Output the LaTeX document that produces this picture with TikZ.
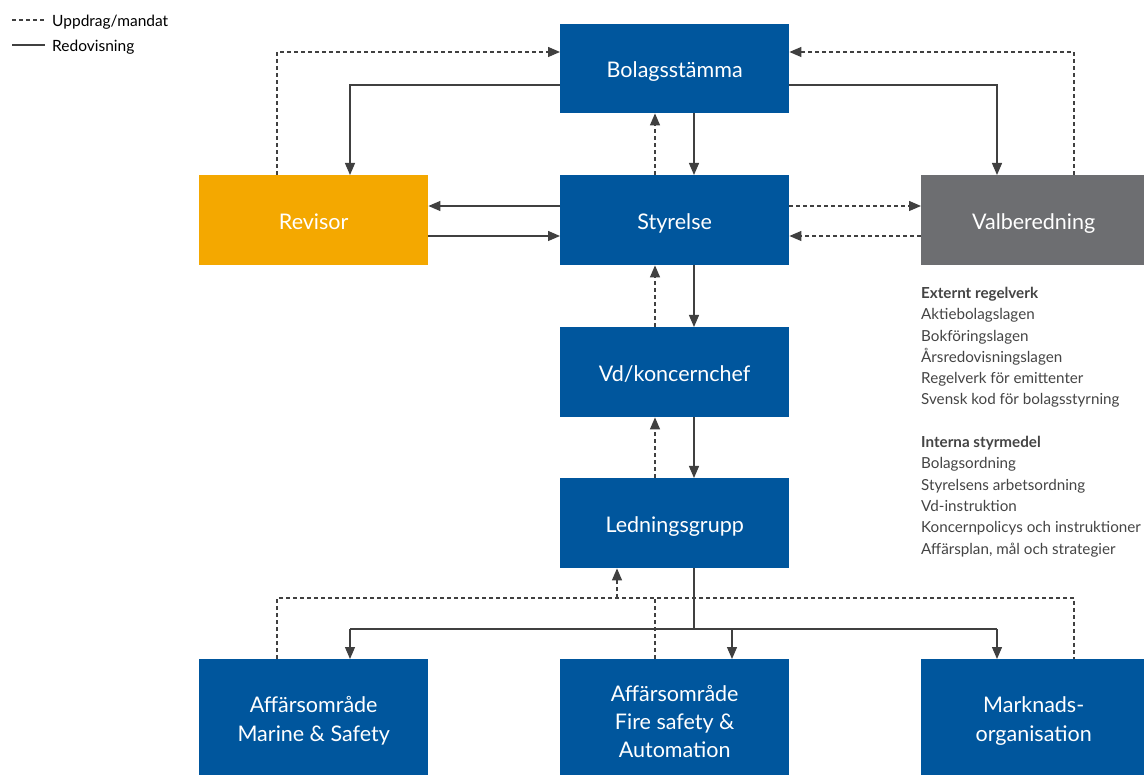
\documentclass[tikz,border=0pt]{standalone}
\usepackage{fontspec}
\setmainfont{Lato}
\usetikzlibrary{arrows.meta,calc}
\definecolor{cblue}{HTML}{00569D}
\definecolor{corange}{HTML}{F4A800}
\definecolor{cgray}{HTML}{6D6E71}
\definecolor{cline}{HTML}{404040}
\definecolor{ctext}{HTML}{444444}
\tikzset{
  box/.style={anchor=north west,inner sep=0pt,minimum width=229pt,minimum height=90pt,text=white,align=center,font=\fontsize{21.5}{29}\selectfont},
  one/.style={text height=18pt,text depth=0pt},
  sol/.style={draw=cline,line width=1.3pt},
  dsh/.style={draw=cline,line width=1.3pt,dash pattern=on 4pt off 3pt},
  arr/.style={-{Triangle[length=12pt,width=10pt]}},
  leg/.style={anchor=west,inner sep=0pt,text=black,font=\fontsize{15.5}{17}\selectfont},
}
\begin{document}
\begin{tikzpicture}[x=1pt,y=-1pt]
\useasboundingbox (0,0) rectangle (1144,775);
\begin{scope}
\clip (0,0) rectangle (1144,775);
\node[box,one,fill=cblue,minimum height=89pt] (bs) at (560,24) {Bolagsstämma};
\node[box,one,fill=corange] (rev) at (199,175) {Revisor};
\node[box,one,fill=cblue] (sty) at (560,175) {Styrelse};
\node[box,one,fill=cgray,minimum width=230pt] (val) at (921,175) {\hspace*{-5pt}Valberedning};
\node[box,one,fill=cblue] (vd) at (560,327) {Vd/koncernchef};
\node[box,one,fill=cblue] (lg) at (560,478) {Ledningsgrupp};
\node[box,fill=cblue,minimum height=124pt] (ma) at (199,659) {Affärsområde\\Marine \& Safety};
\node[box,fill=cblue,minimum height=124pt] (fs) at (560,659) {Affärsområde\\[-1pt]Fire safety \&\\[-1pt]Automation};
\node[box,fill=cblue,minimum height=124pt,minimum width=230pt] (mk) at (921,659) {\hspace*{-5pt}Marknads-\\\hspace*{-5pt}organisation};
\end{scope}

% legend
\draw[dsh] (12,20) coordinate (l1a) -- (45,20) coordinate (l1b);
\node[leg] (lt1) at (52,22) {Uppdrag/mandat};
\draw[sol] (12,45) coordinate (l2a) -- (45,45) coordinate (l2b);
\node[leg] (lt2) at (52,47) {Redovisning};

% text block
\node[anchor=north west,inner sep=0pt,align=left,text=ctext,font=\fontsize{15.2}{21.3}\selectfont] (regel) at (921,287)
{\textbf{Externt regelverk}\\
Aktiebolagslagen\\
Bokföringslagen\\
Årsredovisningslagen\\
Regelverk för emittenter\\
Svensk kod för bolagsstyrning\\[21.3pt]
\textbf{Interna styrmedel}\\
Bolagsordning\\
Styrelsens arbetsordning\\
Vd-instruktion\\
Koncernpolicys och instruktioner\\
Affärsplan, mål och strategier};

% top connections
\draw[dsh,arr] ($(rev.north west)+(78,0)$) |- ($(bs.north west)+(0,28)$);
\draw[sol,arr] ($(bs.north west)+(0,61)$) -| ($(rev.north west)+(151,0)$);
\draw[sol,arr] ($(bs.north east)+(0,61)$) -| ($(val.north west)+(76,0)$);
\draw[dsh,arr] ($(val.north west)+(153,0)$) |- ($(bs.north east)+(0,28)$);
\draw[dsh,arr] ($(sty.north west)+(95,0)$) -- ($(bs.south west)+(95,0)$);
\draw[sol,arr] ($(bs.south west)+(134,0)$) -- ($(sty.north west)+(134,0)$);

% Styrelse row
\draw[sol,arr] ($(sty.north west)+(0,31)$) -- ($(rev.north east)+(0,31)$);
\draw[sol,arr] ($(rev.north east)+(0,61)$) -- ($(sty.north west)+(0,61)$);
\draw[dsh,arr] ($(sty.north east)+(0,31)$) -- ($(val.north west)+(0,31)$);
\draw[dsh,arr] ($(val.north west)+(0,61)$) -- ($(sty.north east)+(0,61)$);

% vertical chain
\draw[dsh,arr] ($(vd.north west)+(95,0)$) -- ($(sty.south west)+(95,0)$);
\draw[sol,arr] ($(sty.south west)+(134,0)$) -- ($(vd.north west)+(134,0)$);
\draw[dsh,arr] ($(lg.north west)+(95,0)$) -- ($(vd.south west)+(95,0)$);
\draw[sol,arr] ($(vd.south west)+(134,0)$) -- ($(lg.north west)+(134,0)$);

% bottom bus (solid)
\coordinate (busL) at ($(ma.north west)+(151,-30)$);
\coordinate (busR) at ($(mk.north west)+(76,-30)$);
\draw[sol] ($(lg.south west)+(134,0)$) -- ($(lg.south west)+(134,61)$);
\draw[sol] (busL) -- (busR);
\draw[sol,arr] (busL) -- ($(ma.north west)+(151,0)$);
\draw[sol,arr] ($(fs.north west)+(172,-30)$) -- ($(fs.north west)+(172,0)$);
\draw[sol,arr] (busR) -- ($(mk.north west)+(76,0)$);

% bottom bus (dashed)
\draw[dsh] ($(ma.north west)+(78,0)$) |- ($(mk.north west)+(153,-61)$) -- ($(mk.north west)+(153,0)$);
\draw[dsh,arr] ($(lg.south west)+(57,30)$) -- ($(lg.south west)+(57,0)$);
\draw[dsh] ($(fs.north west)+(95,0)$) -- ($(fs.north west)+(95,-61)$);
\end{tikzpicture}
\end{document}
